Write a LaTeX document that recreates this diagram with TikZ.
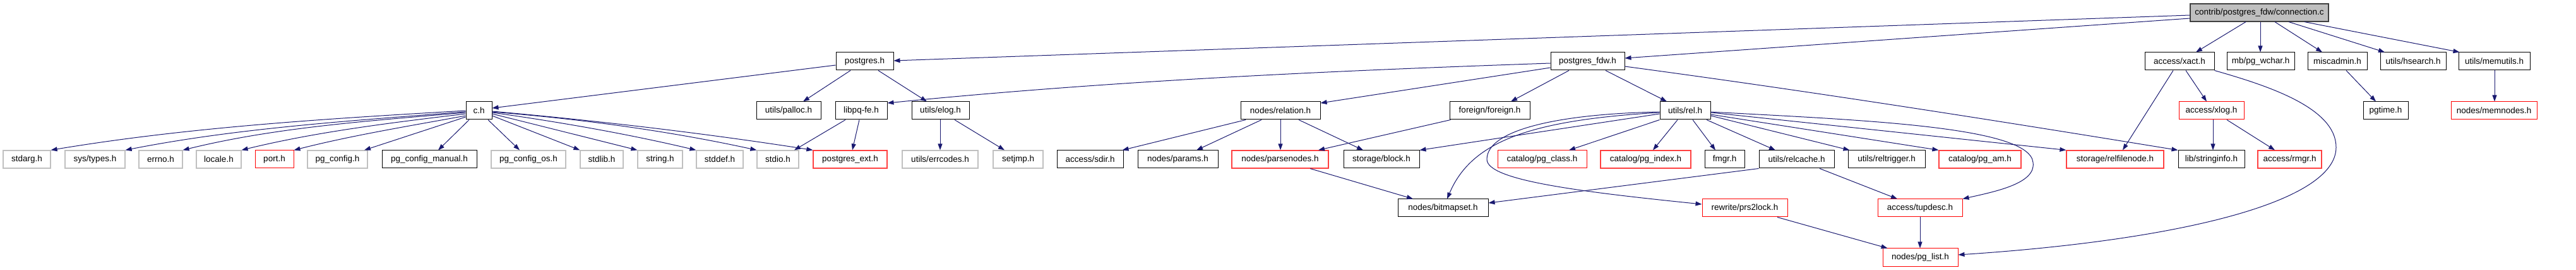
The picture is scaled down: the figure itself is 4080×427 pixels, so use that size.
\documentclass[tikz,border=0pt]{standalone}
\usepackage{fontspec}
\setmainfont{Liberation Sans}
\usetikzlibrary{arrows.meta}
\definecolor{edgec}{HTML}{191970}
\definecolor{grayb}{HTML}{C0C0C0}
\definecolor{redl}{HTML}{FF4040}
\definecolor{rootfill}{HTML}{BFBFBF}
\definecolor{rootdraw}{HTML}{404040}
\begin{document}
\begin{tikzpicture}[x=1pt,y=-1pt,
  nbox/.style={rectangle, minimum height=28pt, inner sep=0pt, font=\fontsize{13.5}{16}\selectfont, fill=white},
  blk/.style={nbox, draw=black, line width=1pt},
  gry/.style={nbox, draw=grayb, line width=1.2pt},
  rd/.style={nbox, draw=red, line width=1pt},
  rdl/.style={nbox, draw=redl, line width=1.2pt},
  root/.style={nbox, draw=rootdraw, fill=rootfill, line width=1.2pt},
  dep/.style={draw=edgec, line width=1pt, -{Triangle[length=10pt,width=7pt]}}
]
\useasboundingbox (0,0) rectangle (4080,427);
% row 0
\node[root, minimum width=219pt] (conn) at (3578.5,20) {contrib/postgres\_fdw/connection.c};
% row 1
\node[blk, minimum width=91pt] (postgres) at (1369.5,97) {postgres.h};
\node[blk, minimum width=117pt] (pgfdw) at (2514.5,97) {postgres\_fdw.h};
\node[blk, minimum width=110pt] (xact) at (3452,97) {access/xact.h};
\node[blk, minimum width=107pt] (wchar) at (3580.5,97) {mb/pg\_wchar.h};
\node[blk, minimum width=94pt] (misc) at (3702,97) {miscadmin.h};
\node[blk, minimum width=104pt] (hsearch) at (3822,97) {utils/hsearch.h};
\node[blk, minimum width=113pt] (memutils) at (3950.5,97) {utils/memutils.h};
% row 2
\node[blk, minimum width=41pt] (ch) at (758.5,175) {c.h};
\node[blk, minimum width=102pt] (palloc) at (1249,175) {utils/palloc.h};
\node[blk, minimum width=82pt] (libpq) at (1364,175) {libpq-fe.h};
\node[blk, minimum width=91pt] (elog) at (1489.5,175) {utils/elog.h};
\node[blk, minimum width=126pt] (relation) at (2028,175) {nodes/relation.h};
\node[blk, minimum width=127pt] (foreign) at (2359.5,175) {foreign/foreign.h};
\node[blk, minimum width=80pt] (rel) at (2669,175) {utils/rel.h};
\node[rd, minimum width=103pt] (xlog) at (3502.5,175) {access/xlog.h};
\node[blk, minimum width=71pt] (pgtime) at (3778.5,175) {pgtime.h};
\node[rd, minimum width=136pt] (memnodes) at (3950,175) {nodes/memnodes.h};
% row 3
\node[gry, minimum width=75pt] (stdarg) at (42.5,252) {stdarg.h};
\node[gry, minimum width=95pt] (systypes) at (150.5,252) {sys/types.h};
\node[gry, minimum width=69pt] (errno) at (254.5,252) {errno.h};
\node[gry, minimum width=71pt] (locale) at (346.5,252) {locale.h};
\node[rd, minimum width=61pt] (port) at (434.5,252) {port.h};
\node[gry, minimum width=95pt] (pgconfig) at (534.5,252) {pg\_config.h};
\node[blk, minimum width=150pt] (pgcman) at (680,252) {pg\_config\_manual.h};
\node[gry, minimum width=118pt] (pgcos) at (837,252) {pg\_config\_os.h};
\node[gry, minimum width=68pt] (stdlib) at (953,252) {stdlib.h};
\node[gry, minimum width=71pt] (string) at (1045.5,252) {string.h};
\node[gry, minimum width=74pt] (stddef) at (1140,252) {stddef.h};
\node[gry, minimum width=66pt] (stdio) at (1232,252) {stdio.h};
\node[rdl, minimum width=117pt] (pgext) at (1346.5,252) {postgres\_ext.h};
\node[gry, minimum width=120pt] (errcodes) at (1489,252) {utils/errcodes.h};
\node[gry, minimum width=79pt] (setjmp) at (1612.5,252) {setjmp.h};
\node[blk, minimum width=105pt] (sdir) at (1726.5,252) {access/sdir.h};
\node[blk, minimum width=127pt] (params) at (1865.5,252) {nodes/params.h};
\node[rdl, minimum width=153pt] (parsenodes) at (2027.5,252) {nodes/parsenodes.h};
\node[blk, minimum width=120pt] (block) at (2188,252) {storage/block.h};
\node[rd, minimum width=141pt] (pgclass) at (2442.5,252) {catalog/pg\_class.h};
\node[rdl, minimum width=143pt] (pgindex) at (2606.5,252) {catalog/pg\_index.h};
\node[blk, minimum width=63pt] (fmgr) at (2731.5,252) {fmgr.h};
\node[blk, minimum width=119pt] (relcache) at (2845.5,252) {utils/relcache.h};
\node[blk, minimum width=122pt] (reltrigger) at (2988,252) {utils/reltrigger.h};
\node[rdl, minimum width=130pt] (pgam) at (3136,252) {catalog/pg\_am.h};
\node[rdl, minimum width=154pt] (relfilenode) at (3350,252) {storage/relfilenode.h};
\node[blk, minimum width=105pt] (stringinfo) at (3502.5,252) {lib/stringinfo.h};
\node[rdl, minimum width=101pt] (rmgr) at (3626.5,252) {access/rmgr.h};
% row 4
\node[blk, minimum width=143pt] (bitmapset) at (2285.5,329) {nodes/bitmapset.h};
\node[rd, minimum width=135pt] (prs2lock) at (2763.5,329) {rewrite/prs2lock.h};
\node[rd, minimum width=134pt] (tupdesc) at (3041,329) {access/tupdesc.h};
% row 5
\node[rd, minimum width=119pt] (pglist) at (3041.5,407) {nodes/pg\_list.h};

% connection.c
\draw[dep] ([yshift=-4pt]conn.west) -- ([yshift=1pt]postgres.east);
\draw[dep] ([yshift=-9pt]conn.west) -- ([yshift=5pt]pgfdw.east);
\draw[dep] ([xshift=-21.5pt]conn.south) -- ([xshift=26pt]xact.north);
\draw[dep] ([xshift=1.5pt]conn.south) -- ([xshift=-0.5pt]wchar.north);
\draw[dep] ([xshift=24.5pt]conn.south) -- ([xshift=-24pt]misc.north);
\draw[dep] ([xshift=46.5pt]conn.south) -- ([xshift=-45pt]hsearch.north);
\draw[dep] ([xshift=71.5pt]conn.south) -- ([xshift=2pt]memutils.north west);
% postgres.h
\draw[dep] ([yshift=-6pt]postgres.west) -- ([yshift=4pt]ch.east);
\draw[dep] ([xshift=-22.5pt]postgres.south) -- ([xshift=23pt]palloc.north);
\draw[dep] ([xshift=21.5pt]postgres.south) -- ([xshift=-21.5pt]elog.north);
% postgres_fdw.h
\draw[dep] ([yshift=-3pt]pgfdw.west) .. controls (2106,112) and (1755,128) .. ([yshift=12pt]libpq.east);
\draw[dep] ([yshift=-10pt]pgfdw.west) -- ([yshift=12pt]relation.east);
\draw[dep] ([xshift=-29.5pt]pgfdw.south) -- ([xshift=33.5pt]foreign.north);
\draw[dep] ([xshift=28.5pt]pgfdw.south) -- ([xshift=-29pt]rel.north);
\draw[dep] ([yshift=-8pt]pgfdw.east) .. controls (2865,144) and (3158,190) .. (stringinfo.north west);
% c.h
\draw[dep] (ch.west) .. controls (519,187.7) and (301,200.8) .. (stdarg.north east);
\draw[dep] ([yshift=-1.7pt]ch.west) .. controls (559,191) and (379,202) .. (systypes.north east);
\draw[dep] ([yshift=-3pt]ch.west) .. controls (589,191) and (439,200.8) .. (errno.north east);
\draw[dep] ([yshift=-5pt]ch.west) .. controls (620,194) and (501,208.5) .. (locale.north east);
\draw[dep] ([yshift=-8pt]ch.west) .. controls (647,199.5) and (556,214.4) .. (port.north east);
\draw[dep] ([yshift=-10pt]ch.west) -- ([xshift=42.5pt]pgconfig.north);
\draw[dep] ([xshift=-15.5pt]ch.south) -- ([xshift=14pt]pgcman.north);
\draw[dep] ([xshift=14.5pt]ch.south) -- ([xshift=-14pt]pgcos.north);
\draw[dep] ([yshift=-8pt]ch.east) -- (stdlib.north west);
\draw[dep] ([yshift=-5pt]ch.east) -- (string.north west);
\draw[dep] ([yshift=-3pt]ch.east) .. controls (887,193) and (995,212) .. (stddef.north west);
\draw[dep] ([yshift=-2pt]ch.east) .. controls (919,188) and (1059,207) .. (stdio.north west);
\draw[dep] ([yshift=-1pt]ch.east) .. controls (948,191) and (1118,211) .. (pgext.north west);
% libpq-fe.h, utils/elog.h
\draw[dep] ([xshift=-25pt]libpq.south) -- ([xshift=26pt]stdio.north);
\draw[dep] ([xshift=-3pt]libpq.south) -- ([xshift=3.5pt]pgext.north);
\draw[dep] ([xshift=-0.5pt]elog.south) -- (errcodes.north);
\draw[dep] ([xshift=22.5pt]elog.south) -- ([xshift=-21.5pt]setjmp.north);
% nodes/relation.h, foreign
\draw[dep] ([xshift=-55pt]relation.south) -- ([xshift=-2pt]sdir.north east);
\draw[dep] ([xshift=-30pt]relation.south) -- ([xshift=29.5pt]params.north);
\draw[dep] (relation.south) -- ([xshift=0.5pt]parsenodes.north);
\draw[dep] ([xshift=29pt]relation.south) -- ([xshift=-29pt]block.north);
\draw[dep] ([xshift=2pt]foreign.south west) -- ([xshift=60.5pt]parsenodes.north);
\draw[dep] ([xshift=47.5pt]parsenodes.south) -- ([xshift=-47.5pt]bitmapset.north);
% utils/rel.h
\draw[dep] ([yshift=-5pt]rel.west) -- (block.north east);
\draw[dep] ([yshift=-3pt]rel.west) .. controls (2420,190) and (2330,225) .. ([xshift=6.5pt]bitmapset.north);
\draw[dep] ([yshift=-2pt]rel.west) .. controls (2470,180) and (2355,205) .. (2355,252) .. controls (2355,285) and (2500,303) .. ([yshift=6pt]prs2lock.west);
\draw[dep] (rel.south west) -- ([xshift=42.5pt]pgclass.north);
\draw[dep] ([xshift=-12pt]rel.south) -- ([xshift=11.5pt]pgindex.north);
\draw[dep] ([xshift=12pt]rel.south) -- ([xshift=-14.5pt]fmgr.north);
\draw[dep] ([xshift=34pt]rel.south) -- ([xshift=-33.5pt]relcache.north);
\draw[dep] ([yshift=-8pt]rel.east) -- ([xshift=3pt]reltrigger.north west);
\draw[dep] ([yshift=-6pt]rel.east) -- (pgam.north west);
\draw[dep] ([yshift=-3pt]rel.east) -- (relfilenode.north west);
\draw[dep] ([yshift=-2pt]rel.east) .. controls (2950,190) and (3215,200) .. (3220,257) .. controls (3225,290) and (3160,303) .. (tupdesc.north east);
% utils/relcache.h, prs2lock, tupdesc
\draw[dep] (relcache.south west) -- ([yshift=8pt]bitmapset.east);
\draw[dep] ([xshift=36.5pt]relcache.south) -- ([xshift=-36pt]tupdesc.north);
\draw[dep] ([xshift=51.5pt]prs2lock.south) -- ([xshift=8pt]pglist.north west);
\draw[dep] (tupdesc.south) -- ([xshift=-0.5pt]pglist.north);
% access/xact.h
\draw[dep] ([xshift=-10pt]xact.south) -- ([xshift=12pt]relfilenode.north);
\draw[dep] ([xshift=10pt]xact.south) -- ([xshift=-7.5pt]xlog.north);
\draw[dep] (xact.south east) .. controls (3590,135) and (3700,170) .. (3700,233) .. controls (3700,320) and (3450,380) .. ([yshift=4pt]pglist.east);
% access/xlog.h, miscadmin.h, utils/memutils.h
\draw[dep] ([xshift=2.5pt]xlog.south) -- ([xshift=2.5pt]stringinfo.north);
\draw[dep] ([xshift=24.5pt]xlog.south) -- ([xshift=-23.5pt]rmgr.north);
\draw[dep] ([xshift=14pt]misc.south) -- ([xshift=-15.5pt]pgtime.north);
\draw[dep] ([xshift=0.5pt]memutils.south) -- ([xshift=1pt]memnodes.north);
\end{tikzpicture}
\end{document}
